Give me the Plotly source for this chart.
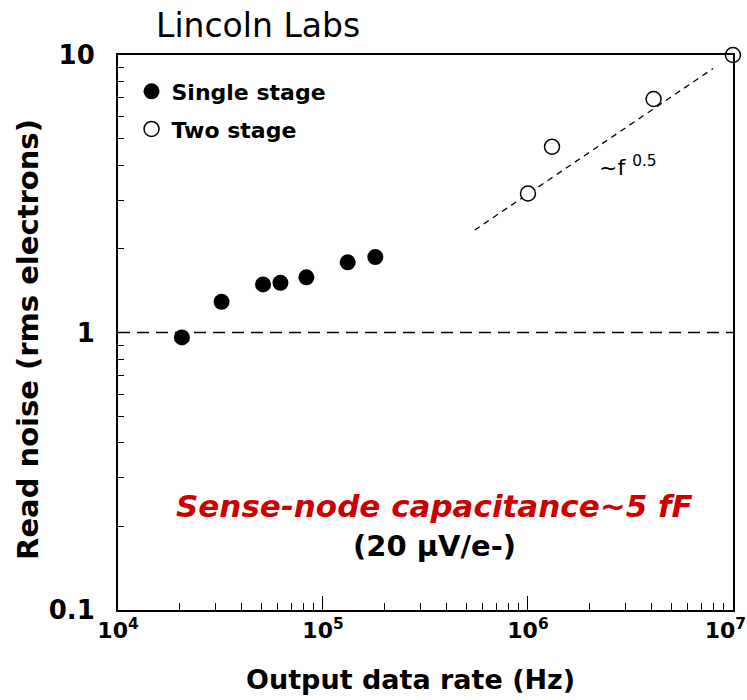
import plotly.graph_objects as go

# Data
single_rate = [2.05e4, 3.2e4, 5.1e4, 6.2e4, 8.3e4, 1.32e5, 1.8e5]
single_noise = [0.96, 1.29, 1.49, 1.51, 1.58, 1.79, 1.87]
two_rate = [1.0e6, 1.31e6, 4.1e6, 1.0e7]
two_noise = [3.17, 4.67, 6.94, 10.0]
trend_rate = [5.5e5, 8.0e6]
trend_noise = [2.34, 8.94]
ref_rate = [1e4, 1e7]
ref_noise = [1.0, 1.0]

x_tickvals = [1e4, 1e5, 1e6, 1e7]
x_ticktext = ["10<sup>4</sup>", "10<sup>5</sup>", "10<sup>6</sup>",
              "10<sup>7</sup>&nbsp;&nbsp;"]
y_tickvals = [0.1, 1, 10]
y_ticktext = ["0.1", "1", "10"]

FONT = "DejaVu Sans, Liberation Sans, Arial, sans-serif"

x_minor = [m * 10 ** e for e in (4, 5, 6) for m in range(2, 10)]
y_minor = [m * 10 ** e for e in (-1, 0) for m in range(2, 10)]

fig = go.Figure()
fig.add_trace(go.Scatter(x=ref_rate, y=ref_noise, mode="lines",
                         line=dict(color="black", width=1.5, dash="12px,7px"),
                         showlegend=False, hoverinfo="skip"))
fig.add_trace(go.Scatter(x=trend_rate, y=trend_noise, mode="lines",
                         line=dict(color="black", width=1.3, dash="6px,5px"),
                         showlegend=False, hoverinfo="skip"))
fig.add_trace(go.Scatter(x=single_rate, y=single_noise, mode="markers",
                         name="Single stage", legendgroup="a",
                         marker=dict(symbol="circle", size=16, color="black",
                                     line=dict(width=0)),
                         cliponaxis=False))
fig.add_trace(go.Scatter(x=two_rate, y=two_noise, mode="markers",
                         name="Two stage", legendgroup="b",
                         marker=dict(symbol="circle", size=15, color="white",
                                     line=dict(width=1.5, color="black")),
                         cliponaxis=False))

fig.update_layout(
    width=747, height=700,
    margin=dict(l=118, r=14, t=55, b=90, autoexpand=False),
    paper_bgcolor="white", plot_bgcolor="white",
    font=dict(family=FONT, color="black"),
    showlegend=True,
    legend=dict(x=0.022, y=0.972, xanchor="left", yanchor="top",
                bgcolor="rgba(0,0,0,0)", traceorder="grouped",
                tracegroupgap=6,
                font=dict(family=FONT, size=22, color="black", weight="bold")),
    xaxis=dict(type="log", range=[4, 7.0002], showline=True, linecolor="black",
               linewidth=2, mirror=True, ticks="inside", ticklen=14,
               tickwidth=1.2, tickcolor="black", tickvals=x_tickvals,
               ticktext=x_ticktext, showgrid=False, zeroline=False,
               ticklabeloverflow="allow", automargin=False,
               tickfont=dict(family=FONT, size=22, weight="bold"),
               minor=dict(tickvals=x_minor, ticks="inside", ticklen=7,
                          tickwidth=1.2, tickcolor="black", showgrid=False)),
    yaxis=dict(type="log", range=[-1, 1], showline=True, linecolor="black",
               linewidth=2, mirror=True, ticks="inside", ticklen=10,
               tickwidth=1.2, tickcolor="black", tickvals=y_tickvals,
               ticktext=y_ticktext, showgrid=False, zeroline=False,
               ticklabelstandoff=16, ticklabeloverflow="allow",
               automargin=False,
               tickfont=dict(family=FONT, size=26, weight="bold"),
               minor=dict(tickvals=y_minor, ticks="inside", ticklen=6,
                          tickwidth=1.2, tickcolor="black", showgrid=False)),
    annotations=[
        dict(text="Lincoln Labs", xref="paper", yref="paper", x=0.228,
             y=1.054, showarrow=False, xanchor="center", yanchor="middle",
             font=dict(family=FONT, size=33, color="black")),
        dict(text="Output data rate (Hz)", xref="paper", yref="paper",
             x=0.475, y=-0.126, showarrow=False, xanchor="center",
             yanchor="middle",
             font=dict(family=FONT, size=27, color="black", weight="bold")),
        dict(text="Read noise (rms electrons)", xref="paper", yref="paper",
             x=-0.146, y=0.487, showarrow=False, xanchor="center",
             yanchor="middle", textangle=-90,
             font=dict(family=FONT, size=29, color="black", weight="bold")),
        dict(text="~f <sup>0.5</sup>", xref="paper", yref="paper",
             x=0.83, y=0.80, showarrow=False, xanchor="center",
             yanchor="middle", font=dict(family=FONT, size=22, color="black")),
        dict(text="<i>Sense-node capacitance~5 fF</i>", xref="paper",
             yref="paper", x=0.515, y=0.187, showarrow=False,
             xanchor="center", yanchor="middle",
             font=dict(family=FONT, size=31, color="#cc0000", weight="bold")),
        dict(text="(20 μV/e-)", xref="paper", yref="paper", x=0.515,
             y=0.115, showarrow=False, xanchor="center", yanchor="middle",
             font=dict(family=FONT, size=29, color="black", weight="bold")),
    ],
)

fig.write_html("out.html")
